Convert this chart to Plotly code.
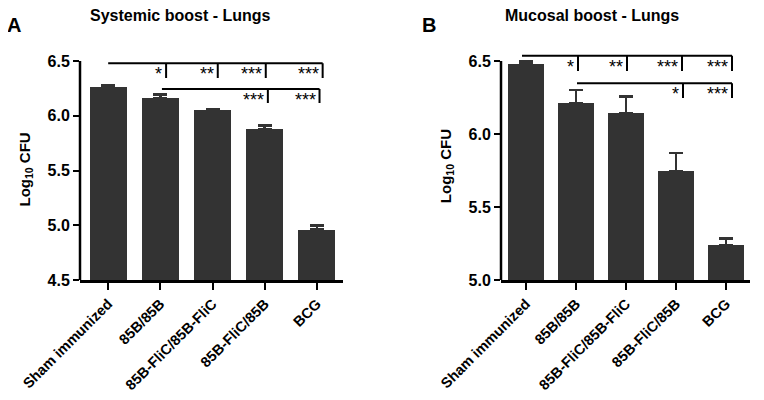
import plotly.graph_objects as go

# groups and values (log10 CFU, mean + SEM)
categories = ["Sham immunized", "85B/85B", "85B-FliC/85B-FliC", "85B-FliC/85B", "BCG"]
systemic_mean = [6.265, 6.16, 6.05, 5.88, 4.96]
systemic_sem = [0.015, 0.035, 0.01, 0.03, 0.04]
mucosal_mean = [6.475, 6.21, 6.14, 5.745, 5.235]
mucosal_sem = [0.02, 0.09, 0.115, 0.125, 0.05]

# significance vs sham (row 1) and vs 85B/85B (row 2)
systemic_sig_sham = ["*", "**", "***", "***"]
systemic_sig_85b = ["***", "***"]
mucosal_sig_sham = ["*", "**", "***", "***"]
mucosal_sig_85b = ["*", "***"]

BAR = "#333333"
FONT = "Liberation Sans, Arial, sans-serif"

# the page body adds an 8px margin, so the figure is drawn 8px smaller
W, H, OFF = 756, 392, 8


def px(x):
    return (x - OFF) / W


def py(y):
    return 1 - (y - OFF) / H


fig = go.Figure()

for i, (mean, sem) in enumerate([(systemic_mean, systemic_sem), (mucosal_mean, mucosal_sem)]):
    n = "" if i == 0 else "2"
    fig.add_trace(go.Bar(
        x=list(range(len(categories))), y=mean, width=0.71,
        marker=dict(color=BAR, line=dict(width=0)),
        error_y=dict(type="data", array=sem, arrayminus=[0] * len(sem), symmetric=False,
                     color=BAR, thickness=2.5, width=7),
        xaxis="x" + n, yaxis="y" + n, showlegend=False,
    ))

xcommon = dict(tickmode="array", tickvals=list(range(len(categories))), ticktext=categories,
               tickangle=-45, ticks="outside", ticklen=7, tickwidth=2, tickcolor="black",
               showline=True, linewidth=2.5, linecolor="black", showgrid=False, zeroline=False,
               automargin=False,
               tickfont=dict(family=FONT, size=14.5, color="black", weight="bold"))
ycommon = dict(ticks="outside", ticklen=6, tickwidth=2, tickcolor="black", dtick=0.5,
               tickformat=".1f", showline=False, showgrid=False, zeroline=False,
               automargin=False,
               tickfont=dict(family=FONT, size=16, color="black", weight="bold"),
               title=dict(text="Log<sub>10</sub> CFU", standoff=13,
                          font=dict(family=FONT, size=15, color="black", weight="bold")))

fig.update_layout(
    width=W, height=H, margin=dict(l=0, r=0, t=0, b=0),
    paper_bgcolor="white", plot_bgcolor="white", bargap=0,
    xaxis=dict(xcommon, domain=[px(80), px(343)], range=[-0.54, 4.5], anchor="y"),
    yaxis=dict(ycommon, domain=[py(280), py(58.8)], range=[4.5, 6.52], anchor="x"),
    xaxis2=dict(xcommon, domain=[px(501), px(750)], range=[-0.5, 4.48], anchor="y2"),
    yaxis2=dict(ycommon, domain=[py(280), py(52.2)], range=[5.0, 6.56], anchor="x2"),
)

shapes = []
annotations = []
line = dict(color="black", width=2)

# y axis lines stop at the top tick
for n, lo, hi in [("", 4.5, 6.5), ("2", 5.0, 6.5)]:
    shapes.append(dict(type="line", xref="x" + n + " domain", yref="y" + n,
                       x0=0, x1=0, y0=lo, y1=hi, line=dict(color="black", width=2.5)))


def bracket(n, x_start, ticks_x, y_line, y_tick, y_star, stars):
    shapes.append(dict(type="line", xref="x" + n, yref="y" + n, x0=x_start, x1=ticks_x[-1],
                       y0=y_line, y1=y_line, line=line))
    for tx, s in zip(ticks_x, stars):
        shapes.append(dict(type="line", xref="x" + n, yref="y" + n, x0=tx, x1=tx,
                           y0=y_line, y1=y_tick, line=line))
        annotations.append(dict(x=tx, y=y_star, xref="x" + n, yref="y" + n, text=s,
                                showarrow=False, xanchor="right", yanchor="middle", xshift=-2,
                                font=dict(family=FONT, size=18, color="black")))


bracket("", 0.0, [1.11, 2.1, 3.02, 4.11], 6.479, 6.345, 6.381, systemic_sig_sham)
bracket("", 1.03, [3.06, 4.05], 6.244, 6.116, 6.147, systemic_sig_85b)
bracket("2", -0.08, [1.04, 2.02, 3.12, 4.12], 6.536, 6.432, 6.457, mucosal_sig_sham)
bracket("2", 1.02, [3.14, 4.12], 6.347, 6.247, 6.274, mucosal_sig_85b)

# panel titles and letters
for text, x, y, size in [("Systemic boost - Lungs", 180, 15, 16), ("Mucosal boost - Lungs", 592, 15, 16),
                         ("A", 14, 25, 20), ("B", 429, 25, 20)]:
    annotations.append(dict(x=px(x), y=py(y), xref="paper", yref="paper", text=text,
                            showarrow=False, xanchor="center", yanchor="middle",
                            font=dict(family=FONT, size=size, color="black", weight="bold")))

fig.update_layout(shapes=shapes, annotations=annotations)
fig.write_html("out.html")
